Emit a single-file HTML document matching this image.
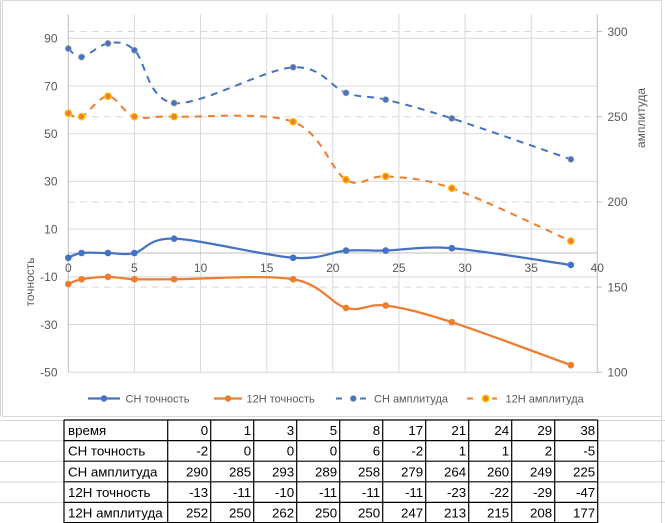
<!DOCTYPE html>
<html><head><meta charset="utf-8">
<style>
html,body{margin:0;padding:0;background:#fff;}
svg{display:block;}
text{font-family:"Liberation Sans",sans-serif;}
</style></head>
<body>
<svg width="665" height="523" viewBox="0 0 665 523" xmlns="http://www.w3.org/2000/svg">
<rect x="0" y="0" width="665" height="523" fill="#fff"/>
<!-- spreadsheet gridlines -->
<g stroke="#d4d4d4" stroke-width="1">
  <line x1="0.5" y1="0" x2="0.5" y2="416"/>
  <line x1="0" y1="420.5" x2="64" y2="420.5"/>
  <line x1="0" y1="440.8" x2="64" y2="440.8"/>
  <line x1="0" y1="461.4" x2="64" y2="461.4"/>
  <line x1="0" y1="482" x2="64" y2="482"/>
  <line x1="0" y1="502.6" x2="64" y2="502.6"/>
  <line x1="598" y1="420.5" x2="665" y2="420.5"/>
  <line x1="598" y1="440.8" x2="665" y2="440.8"/>
  <line x1="598" y1="461.4" x2="665" y2="461.4"/>
  <line x1="598" y1="482" x2="665" y2="482"/>
  <line x1="598" y1="502.6" x2="665" y2="502.6"/>
  <line x1="661.5" y1="416" x2="661.5" y2="523"/>
</g>
<!-- chart area -->
<rect x="2.5" y="0.5" width="659" height="416" fill="#fff" stroke="#d9d9d9" stroke-width="1"/>

<!-- vertical gridlines -->
<g stroke="#d9d9d9" stroke-width="1">
  <line x1="134.5" y1="14.4" x2="134.5" y2="372.3"/>
  <line x1="200.5" y1="14.4" x2="200.5" y2="372.3"/>
  <line x1="266.7" y1="14.4" x2="266.7" y2="372.3"/>
  <line x1="332.8" y1="14.4" x2="332.8" y2="372.3"/>
  <line x1="398.9" y1="14.4" x2="398.9" y2="372.3"/>
  <line x1="465.1" y1="14.4" x2="465.1" y2="372.3"/>
  <line x1="531.2" y1="14.4" x2="531.2" y2="372.3"/>
</g>
<!-- left horizontal gridlines -->
<g stroke="#d9d9d9" stroke-width="1">
  <line x1="68" y1="372.3" x2="597" y2="372.3"/>
  <line x1="68" y1="324.58" x2="597" y2="324.58"/>
  <line x1="68" y1="276.86" x2="597" y2="276.86"/>
  <line x1="68" y1="229.14" x2="597" y2="229.14"/>
  <line x1="68" y1="181.42" x2="597" y2="181.42"/>
  <line x1="68" y1="133.7" x2="597" y2="133.7"/>
  <line x1="68" y1="85.98" x2="597" y2="85.98"/>
  <line x1="68" y1="38.26" x2="597" y2="38.26"/>
</g>
<!-- right dashed gridlines -->
<g stroke="#d9d9d9" stroke-width="1" stroke-dasharray="7 5">
  <line x1="68" y1="287.1" x2="597" y2="287.1"/>
  <line x1="68" y1="201.9" x2="597" y2="201.9"/>
  <line x1="68" y1="116.7" x2="597" y2="116.7"/>
  <line x1="68" y1="31.5" x2="597" y2="31.5"/>
</g>
<!-- axes -->
<g stroke="#bfbfbf" stroke-width="1">
  <line x1="68.3" y1="14.4" x2="68.3" y2="372.3"/>
  <line x1="68" y1="253" x2="597" y2="253"/>
  <line x1="597.3" y1="14.4" x2="597.3" y2="372.8"/>
  <line x1="597" y1="372.3" x2="602" y2="372.3"/>
  <line x1="597" y1="287.1" x2="602" y2="287.1"/>
  <line x1="597" y1="201.9" x2="602" y2="201.9"/>
  <line x1="597" y1="116.7" x2="602" y2="116.7"/>
  <line x1="597" y1="31.5" x2="602" y2="31.5"/>
</g>

<!-- tick labels -->
<g fill="#595959" font-size="12">
  <g text-anchor="end">
    <text x="57.5" y="42.56">90</text>
    <text x="57.5" y="90.28">70</text>
    <text x="57.5" y="138">50</text>
    <text x="57.5" y="185.72">30</text>
    <text x="57.5" y="233.44">10</text>
    <text x="57.5" y="281.16">-10</text>
    <text x="57.5" y="328.88">-30</text>
    <text x="57.5" y="376.6">-50</text>
  </g>
  <text x="607.5" y="35.8">300</text>
  <text x="607.5" y="121">250</text>
  <text x="607.5" y="206.2">200</text>
  <text x="607.5" y="291.4">150</text>
  <text x="607.5" y="376.6">100</text>
  <g text-anchor="middle">
    <text x="68.3" y="272">0</text>
    <text x="134.4" y="272">5</text>
    <text x="200.6" y="272">10</text>
    <text x="266.7" y="272">15</text>
    <text x="332.8" y="272">20</text>
    <text x="398.9" y="272">25</text>
    <text x="465.1" y="272">30</text>
    <text x="531.2" y="272">35</text>
    <text x="597.3" y="272">40</text>
  </g>
</g>

<!-- series: CH точность -->
<path d="M68.30,257.77 C70.51,256.98 74.92,253.80 81.53,253 C88.14,252.21 99.16,253 107.98,253 C116.80,253 123.41,255.39 134.43,253 C145.45,250.61 147.65,237.89 174.10,238.68 C200.55,239.48 264.48,255.78 293.13,257.77 C321.79,259.76 330.60,251.80 346.03,250.61 C361.46,249.42 368.07,251.01 385.70,250.61 C403.33,250.21 420.97,245.84 451.83,248.23 C482.69,250.62 551.01,262.15 570.85,264.93" fill="none" stroke="#4472C4" stroke-width="2.25" stroke-linecap="round"/>
<g fill="#4472C4">
  <circle cx="68.30" cy="257.77" r="3.3"/>
  <circle cx="81.53" cy="253" r="3.3"/>
  <circle cx="107.98" cy="253" r="3.3"/>
  <circle cx="134.43" cy="253" r="3.3"/>
  <circle cx="174.10" cy="238.68" r="3.3"/>
  <circle cx="293.13" cy="257.77" r="3.3"/>
  <circle cx="346.03" cy="250.61" r="3.3"/>
  <circle cx="385.70" cy="250.61" r="3.3"/>
  <circle cx="451.83" cy="248.23" r="3.3"/>
  <circle cx="570.85" cy="264.93" r="3.3"/>
</g>

<!-- series: 12H точность -->
<path d="M68.30,284.02 C70.51,283.23 74.92,280.44 81.53,279.25 C88.14,278.06 99.16,276.86 107.98,276.86 C116.80,276.86 123.41,278.85 134.43,279.25 C145.45,279.65 147.65,279.25 174.10,279.25 C200.55,279.25 264.48,274.48 293.13,279.25 C321.79,284.02 330.60,303.51 346.03,307.88 C361.46,312.25 368.07,303.11 385.70,305.49 C403.33,307.88 420.97,312.25 451.83,322.19 C482.69,332.13 551.01,357.98 570.85,365.14" fill="none" stroke="#ED7D31" stroke-width="2.25" stroke-linecap="round"/>
<g fill="#ED7D31">
  <circle cx="68.30" cy="284.02" r="3.3"/>
  <circle cx="81.53" cy="279.25" r="3.3"/>
  <circle cx="107.98" cy="276.86" r="3.3"/>
  <circle cx="134.43" cy="279.25" r="3.3"/>
  <circle cx="174.10" cy="279.25" r="3.3"/>
  <circle cx="293.13" cy="279.25" r="3.3"/>
  <circle cx="346.03" cy="307.88" r="3.3"/>
  <circle cx="385.70" cy="305.49" r="3.3"/>
  <circle cx="451.83" cy="322.19" r="3.3"/>
  <circle cx="570.85" cy="365.14" r="3.3"/>
</g>

<!-- series: CH амплитуда -->
<path d="M68.30,48.54 C70.51,49.96 74.92,57.91 81.53,57.06 C88.14,56.21 99.16,44.57 107.98,43.43 C116.80,42.29 123.41,40.30 134.43,50.24 C145.45,60.18 147.65,100.23 174.10,103.07 C200.55,105.91 264.48,68.99 293.13,67.28 C321.79,65.58 330.60,87.44 346.03,92.84 C361.46,98.24 368.07,95.40 385.70,99.66 C403.33,103.92 420.97,108.46 451.83,118.40 C482.69,128.34 551.01,152.48 570.85,159.30" fill="none" stroke="#4472C4" stroke-width="2" stroke-dasharray="7 6"/>
<g fill="#4472C4" stroke="#A5A5A5" stroke-width="0.8">
  <circle cx="68.30" cy="48.54" r="3"/>
  <circle cx="81.53" cy="57.06" r="3"/>
  <circle cx="107.98" cy="43.43" r="3"/>
  <circle cx="134.43" cy="50.24" r="3"/>
  <circle cx="174.10" cy="103.07" r="3"/>
  <circle cx="293.13" cy="67.28" r="3"/>
  <circle cx="346.03" cy="92.84" r="3"/>
  <circle cx="385.70" cy="99.66" r="3"/>
  <circle cx="451.83" cy="118.40" r="3"/>
  <circle cx="570.85" cy="159.30" r="3"/>
</g>

<!-- series: 12H амплитуда -->
<path d="M68.30,113.29 C70.51,113.86 74.92,119.54 81.53,116.7 C88.14,113.86 99.16,96.25 107.98,96.25 C116.80,96.25 123.41,113.29 134.43,116.7 C145.45,120.11 147.65,115.85 174.10,116.7 C200.55,117.55 264.48,111.30 293.13,121.81 C321.79,132.32 330.60,170.66 346.03,179.75 C361.46,188.84 368.07,174.92 385.70,176.34 C403.33,177.76 420.97,177.48 451.83,188.27 C482.69,199.06 551.01,232.29 570.85,241.09" fill="none" stroke="#ED7D31" stroke-width="2" stroke-dasharray="7 6"/>
<g fill="#ED7D31" stroke="#FFC000" stroke-width="1.3">
  <circle cx="68.30" cy="113.29" r="3.2"/>
  <circle cx="81.53" cy="116.7" r="3.2"/>
  <circle cx="107.98" cy="96.25" r="3.2"/>
  <circle cx="134.43" cy="116.7" r="3.2"/>
  <circle cx="174.10" cy="116.7" r="3.2"/>
  <circle cx="293.13" cy="121.81" r="3.2"/>
  <circle cx="346.03" cy="179.75" r="3.2"/>
  <circle cx="385.70" cy="176.34" r="3.2"/>
  <circle cx="451.83" cy="188.27" r="3.2"/>
  <circle cx="570.85" cy="241.09" r="3.2"/>
</g>

<!-- axis titles -->
<text x="0" y="0" font-size="12" fill="#595959" text-anchor="middle" transform="translate(34,282) rotate(-90)">точность</text>
<text x="0" y="0" font-size="12" fill="#595959" text-anchor="middle" transform="translate(645,118) rotate(-90)">амплитуда</text>

<!-- legend -->
<g font-size="11" fill="#595959">
  <line x1="88" y1="398.5" x2="120" y2="398.5" stroke="#4472C4" stroke-width="2.25"/>
  <circle cx="104" cy="398.5" r="3.2" fill="#4472C4"/>
  <text x="125.5" y="402.5">СН точность</text>
  <line x1="214" y1="398.5" x2="242" y2="398.5" stroke="#ED7D31" stroke-width="2.25"/>
  <circle cx="228" cy="398.5" r="3.2" fill="#ED7D31"/>
  <text x="246.5" y="402.5">12Н точность</text>
  <line x1="336" y1="398.5" x2="370" y2="398.5" stroke="#4472C4" stroke-width="2" stroke-dasharray="6 6"/>
  <rect x="347" y="394" width="13" height="9" fill="#fff"/>
  <circle cx="353.3" cy="398.5" r="3" fill="#4472C4" stroke="#A5A5A5" stroke-width="0.8"/>
  <text x="374" y="402.5">СН амплитуда</text>
  <line x1="467" y1="398.5" x2="502" y2="398.5" stroke="#ED7D31" stroke-width="2" stroke-dasharray="6 6"/>
  <rect x="479" y="394" width="13" height="9" fill="#fff"/>
  <circle cx="485.7" cy="398.5" r="3.2" fill="#ED7D31" stroke="#FFC000" stroke-width="1.3"/>
  <text x="505.5" y="402.5">12Н амплитуда</text>
</g>

<!-- table -->
<g font-size="13.3" fill="#000">
  <text x="68" y="435.1">время</text>
  <text x="68" y="455.7">СН точность</text>
  <text x="68" y="476.3">СН амплитуда</text>
  <text x="68" y="496.9">12Н точность</text>
  <text x="68" y="517.5">12Н амплитуда</text>
  <g text-anchor="end">
    <text x="208.2" y="435.1">0</text><text x="251.2" y="435.1">1</text><text x="294.2" y="435.1">3</text><text x="337.2" y="435.1">5</text><text x="380.2" y="435.1">8</text><text x="423.2" y="435.1">17</text><text x="466.2" y="435.1">21</text><text x="509.2" y="435.1">24</text><text x="552.2" y="435.1">29</text><text x="595.2" y="435.1">38</text>
    <text x="208.2" y="455.7">-2</text><text x="251.2" y="455.7">0</text><text x="294.2" y="455.7">0</text><text x="337.2" y="455.7">0</text><text x="380.2" y="455.7">6</text><text x="423.2" y="455.7">-2</text><text x="466.2" y="455.7">1</text><text x="509.2" y="455.7">1</text><text x="552.2" y="455.7">2</text><text x="595.2" y="455.7">-5</text>
    <text x="208.2" y="476.3">290</text><text x="251.2" y="476.3">285</text><text x="294.2" y="476.3">293</text><text x="337.2" y="476.3">289</text><text x="380.2" y="476.3">258</text><text x="423.2" y="476.3">279</text><text x="466.2" y="476.3">264</text><text x="509.2" y="476.3">260</text><text x="552.2" y="476.3">249</text><text x="595.2" y="476.3">225</text>
    <text x="208.2" y="496.9">-13</text><text x="251.2" y="496.9">-11</text><text x="294.2" y="496.9">-10</text><text x="337.2" y="496.9">-11</text><text x="380.2" y="496.9">-11</text><text x="423.2" y="496.9">-11</text><text x="466.2" y="496.9">-23</text><text x="509.2" y="496.9">-22</text><text x="552.2" y="496.9">-29</text><text x="595.2" y="496.9">-47</text>
    <text x="208.2" y="517.5">252</text><text x="251.2" y="517.5">250</text><text x="294.2" y="517.5">262</text><text x="337.2" y="517.5">250</text><text x="380.2" y="517.5">250</text><text x="423.2" y="517.5">247</text><text x="466.2" y="517.5">213</text><text x="509.2" y="517.5">215</text><text x="552.2" y="517.5">208</text><text x="595.2" y="517.5">177</text>
  </g>
</g>
<g stroke="#000" stroke-width="1.2">
  <line x1="64" y1="420" x2="597.7" y2="420"/>
  <line x1="64" y1="440.6" x2="597.7" y2="440.6"/>
  <line x1="64" y1="461.2" x2="597.7" y2="461.2"/>
  <line x1="64" y1="481.8" x2="597.7" y2="481.8"/>
  <line x1="64" y1="502.4" x2="597.7" y2="502.4"/>
  <line x1="64" y1="522.6" x2="597.7" y2="522.6"/>
  <line x1="64" y1="420" x2="64" y2="523"/>
  <line x1="167.7" y1="420" x2="167.7" y2="523"/>
  <line x1="210.7" y1="420" x2="210.7" y2="523"/>
  <line x1="253.7" y1="420" x2="253.7" y2="523"/>
  <line x1="296.7" y1="420" x2="296.7" y2="523"/>
  <line x1="339.7" y1="420" x2="339.7" y2="523"/>
  <line x1="382.7" y1="420" x2="382.7" y2="523"/>
  <line x1="425.7" y1="420" x2="425.7" y2="523"/>
  <line x1="468.7" y1="420" x2="468.7" y2="523"/>
  <line x1="511.7" y1="420" x2="511.7" y2="523"/>
  <line x1="554.7" y1="420" x2="554.7" y2="523"/>
  <line x1="597.7" y1="420" x2="597.7" y2="523"/>
</g>
</svg>
</body></html>
